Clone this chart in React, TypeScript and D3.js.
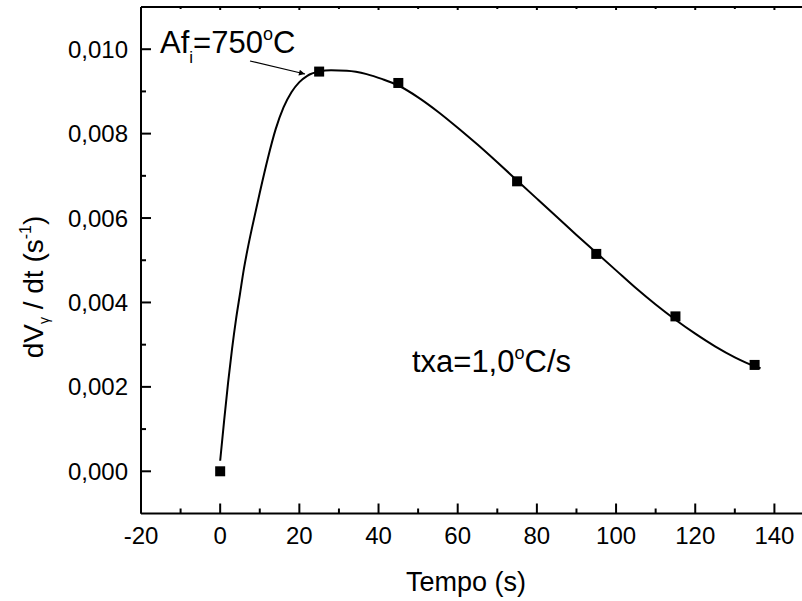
import React from "react";
import * as d3 from "d3";

const pointX = [0, 25, 45, 75, 95, 115, 135];
const pointY = [0.0, 0.00947, 0.0092, 0.00687, 0.00515, 0.00367, 0.00252];

const curveX = [0, 1, 2, 3, 4, 5, 6, 7, 8, 10, 12, 14, 16, 18, 20, 22, 25, 28, 32, 37, 41, 45, 50, 55, 60, 65, 70, 75, 80, 85, 90, 95, 100, 105, 110, 115, 120, 125, 130, 135, 136.5];
const curveY = [0.00025, 0.0012, 0.0021, 0.0029, 0.0036, 0.0042, 0.0048, 0.0053, 0.00575, 0.0066, 0.0074, 0.0081, 0.00862, 0.00898, 0.00922, 0.00937, 0.00947, 0.0095, 0.00949, 0.00941, 0.00929, 0.00914, 0.00886, 0.00852, 0.00814, 0.00774, 0.00732, 0.00689, 0.00646, 0.00603, 0.0056, 0.00518, 0.00476, 0.00434, 0.00395, 0.00359, 0.00326, 0.00296, 0.0027, 0.00249, 0.00244];

const xMajor = [-20, 0, 20, 40, 60, 80, 100, 120, 140];
const xMinor = [-10, 10, 30, 50, 70, 90, 110, 130];
const yMajor = [0, 0.002, 0.004, 0.006, 0.008, 0.01];
const yMinor = [0.001, 0.003, 0.005, 0.007, 0.009];

const W = 802;
const H = 601;
const L = 141;
const R = 814;
const T = 7;
const B = 513.5;
const FONT = "'Liberation Sans', Arial, sans-serif";

export default function App() {
  const x = d3.scaleLinear().domain([-20, 150]).range([L, R]);
  const y = d3.scaleLinear().domain([-0.001, 0.011]).range([B, T]);
  const fmt = (v: number) => v.toFixed(3).replace(".", ",");
  const line = d3
    .line<number>()
    .x((_, i) => x(curveX[i]))
    .y((d) => y(d))
    .curve(d3.curveMonotoneX);

  return (
    <svg
      width={W}
      height={H}
      style={{ position: "fixed", left: 0, top: 0, background: "#fff" }}
      fontFamily={FONT}
    >
      <defs>
        <marker id="ah" viewBox="0 0 10 10" refX="10" refY="5" markerWidth="9" markerHeight="6" orient="auto" markerUnits="userSpaceOnUse">
          <path d="M0,0 L10,5 L0,10 z" fill="#000" />
        </marker>
      </defs>
      <rect x={0} y={0} width={W} height={H} fill="#fff" />
      {/* frame */}
      <line x1={L} x2={R} y1={B} y2={B} stroke="#000" strokeWidth={2} />
      <line x1={L} x2={R} y1={T} y2={T} stroke="#000" strokeWidth={2} />
      <line x1={L} x2={L} y1={T} y2={B} stroke="#000" strokeWidth={2} />
      <line x1={R} x2={R} y1={T} y2={B} stroke="#000" strokeWidth={2} />
      {/* x ticks */}
      {xMajor.map((v) => (
        <g key={"xm" + v}>
          <line x1={x(v)} x2={x(v)} y1={B} y2={B - 10} stroke="#000" strokeWidth={2} />
          <line x1={x(v)} x2={x(v)} y1={T} y2={T + 3} stroke="#000" strokeWidth={2} />
          <text x={x(v)} y={544} textAnchor="middle" fontSize={24}>
            {v}
          </text>
        </g>
      ))}
      {xMinor.map((v) => (
        <g key={"xn" + v}>
          <line x1={x(v)} x2={x(v)} y1={B} y2={B - 5} stroke="#000" strokeWidth={2} />
          <line x1={x(v)} x2={x(v)} y1={T} y2={T + 2} stroke="#000" strokeWidth={2} />
        </g>
      ))}
      {/* y ticks */}
      {yMajor.map((v) => (
        <g key={"ym" + v}>
          <line x1={L} x2={L + 10} y1={y(v)} y2={y(v)} stroke="#000" strokeWidth={2} />
          <text x={128} y={y(v) + 8.5} textAnchor="end" fontSize={24}>
            {fmt(v)}
          </text>
        </g>
      ))}
      {yMinor.map((v) => (
        <line key={"yn" + v} x1={L} x2={L + 5} y1={y(v)} y2={y(v)} stroke="#000" strokeWidth={2} />
      ))}
      {/* curve */}
      <path d={line(curveY) || ""} fill="none" stroke="#000" strokeWidth={2} />
      {/* points */}
      {pointX.map((v, i) => (
        <rect key={"p" + i} x={x(v) - 5} y={y(pointY[i]) - 5} width={10} height={10} fill="#000" />
      ))}
      {/* annotation */}
      <text x={160} y={53} fontSize={31}>
        Af
        <tspan dy={10} fontSize={17}>i</tspan>
        <tspan dy={-10}>=750</tspan>
        <tspan dy={-13} fontSize={18}>o</tspan>
        <tspan dy={13}>C</tspan>
      </text>
      <line x1={250} y1={61} x2={305} y2={74} stroke="#000" strokeWidth={1.2} markerEnd="url(#ah)" />
      <text x={571} y={372} fontSize={31} textAnchor="end">
        txa=1,0
        <tspan dy={-13} fontSize={18}>o</tspan>
        <tspan dy={13}>C/s</tspan>
      </text>
      {/* axis titles */}
      <text x={466} y={591} textAnchor="middle" fontSize={27}>
        Tempo (s)
      </text>
      <text transform="translate(43,287) rotate(-90)" textAnchor="middle" fontSize={28}>
        dV
        <tspan dy={6} fontSize={14}>γ</tspan>
        <tspan dy={-6}> / dt (s</tspan>
        <tspan dy={-12} fontSize={16}>-1</tspan>
        <tspan dy={12}>)</tspan>
      </text>
    </svg>
  );
}
